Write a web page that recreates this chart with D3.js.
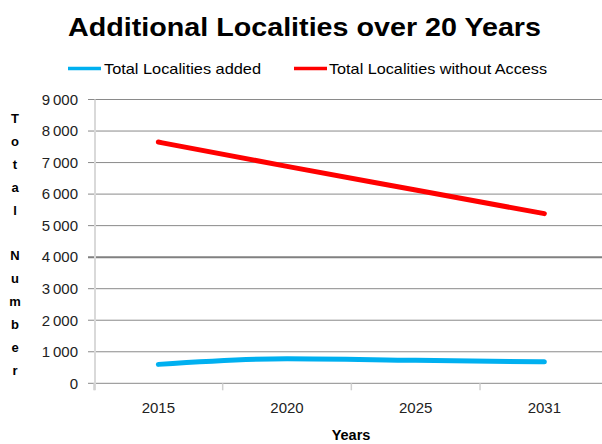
<!DOCTYPE html>
<html>
<head>
<meta charset="utf-8">
<script src="https://cdn.jsdelivr.net/npm/d3@7"></script>
<style>
  html, body { margin: 0; padding: 0; background: #fff; }
  svg { display: block; font-family: "Liberation Sans", Arial, sans-serif; }
</style>
</head>
<body>
<svg id="chart" width="602" height="444"></svg>
<script>
const years = ["2015", "2020", "2025", "2031"];
const localitiesAdded = [600, 780, 730, 680];
const localitiesWithoutAccess = [7650, 6880, 6130, 5380];
const yTicks = [0, 1000, 2000, 3000, 4000, 5000, 6000, 7000, 8000, 9000];
const seriesNames = ["Total Localities added", "Total Localities without Access"];
const seriesColors = ["#00b0f0", "#ff0000"];
const titleText = "Additional Localities over 20 Years";
const yTitle = "Total Number";
const xTitle = "Years";

(function () {
const svg = d3.select("#chart");
const pLeft = 94, pRight = 608.7, pTop = 99.5, pBottom = 383.3;

const x = d3.scaleBand().domain(years).range([pLeft, pRight]);
const y = d3.scaleLinear().domain([0, 9000]).range([pBottom, pTop]);

// title
svg.append("text").attr("x", 68).attr("y", 35.5)
  .attr("font-size", 26.5).attr("font-weight", "bold").attr("fill", "#000")
  .attr("textLength", 473).attr("lengthAdjust", "spacingAndGlyphs").text(titleText);

// legend
const legendPos = [{lx: 68, tx: 104, tl: 157}, {lx: 294, tx: 329, tl: 218}];
seriesNames.forEach((n, i) => {
  const p = legendPos[i];
  svg.append("line").attr("x1", p.lx).attr("x2", p.lx + 33).attr("y1", 68.5).attr("y2", 68.5)
    .attr("stroke", seriesColors[i]).attr("stroke-width", 3.5);
  svg.append("text").attr("x", p.tx).attr("y", 73.5).attr("font-size", 14.5)
    .attr("textLength", p.tl).attr("lengthAdjust", "spacingAndGlyphs").attr("fill", "#000").text(n);
});

// gridlines
const grid = svg.append("g");
yTicks.forEach(t => {
  grid.append("line").attr("x1", pLeft - 6).attr("x2", 602)
    .attr("y1", y(t)).attr("y2", y(t))
    .attr("stroke", t === 4000 ? "#808080" : "#8a8a8a")
    .attr("stroke-width", t === 4000 ? 2 : 1);
});

// y axis line
svg.append("line").attr("x1", pLeft + 1).attr("x2", pLeft + 1).attr("y1", pTop).attr("y2", pBottom + 7)
  .attr("stroke", "#d9d9d9").attr("stroke-width", 2);

// y axis labels
const yAxis = d3.axisLeft(y).tickValues(yTicks).tickSize(0).tickPadding(0)
  .tickFormat(d => d === 0 ? "0" : d3.format(",")(d).replace(",", "\u2009"));
const yg = svg.append("g").attr("transform", `translate(78,0)`).call(yAxis);
yg.select(".domain").remove();
yg.selectAll("text").attr("font-size", 15).attr("fill", "#222")
  .attr("font-family", "Liberation Sans, Arial, sans-serif");

// x axis
const boundaries = [pLeft, ...years.map(d => x(d) + x.bandwidth())];
boundaries.forEach(b => {
  svg.append("line").attr("x1", b).attr("x2", b).attr("y1", pBottom).attr("y2", pBottom + 7)
    .attr("stroke", "#d0d0d0").attr("stroke-width", 1.5);
});
const xAxis = d3.axisBottom(x).tickSize(0).tickPadding(0);
const xg = svg.append("g").attr("transform", `translate(0,${pBottom + 19})`).call(xAxis);
xg.select(".domain").remove();
xg.selectAll("text").attr("font-size", 15).attr("fill", "#222")
  .attr("font-family", "Liberation Sans, Arial, sans-serif");

// axis titles
svg.append("text").attr("x", 351).attr("y", 440).attr("text-anchor", "middle")
  .attr("font-size", 14.5).attr("font-weight", "bold").text(xTitle);
yTitle.split("").forEach((c, i) => {
  svg.append("text").attr("x", 15).attr("y", 118 + i * 22.9 + 5).attr("text-anchor", "middle")
    .attr("font-size", 13).attr("font-weight", "bold").text(c);
});

// lines
const line = d3.line().x((d, i) => x(years[i]) + x.bandwidth() / 2).y(d => y(d)).curve(d3.curveMonotoneX);
[localitiesAdded, localitiesWithoutAccess].forEach((vals, i) => {
  svg.append("path").datum(vals).attr("d", line).attr("fill", "none")
    .attr("stroke", seriesColors[i]).attr("stroke-width", 5)
    .attr("stroke-linecap", "round").attr("stroke-linejoin", "round");
});
})();
</script>
</body>
</html>
